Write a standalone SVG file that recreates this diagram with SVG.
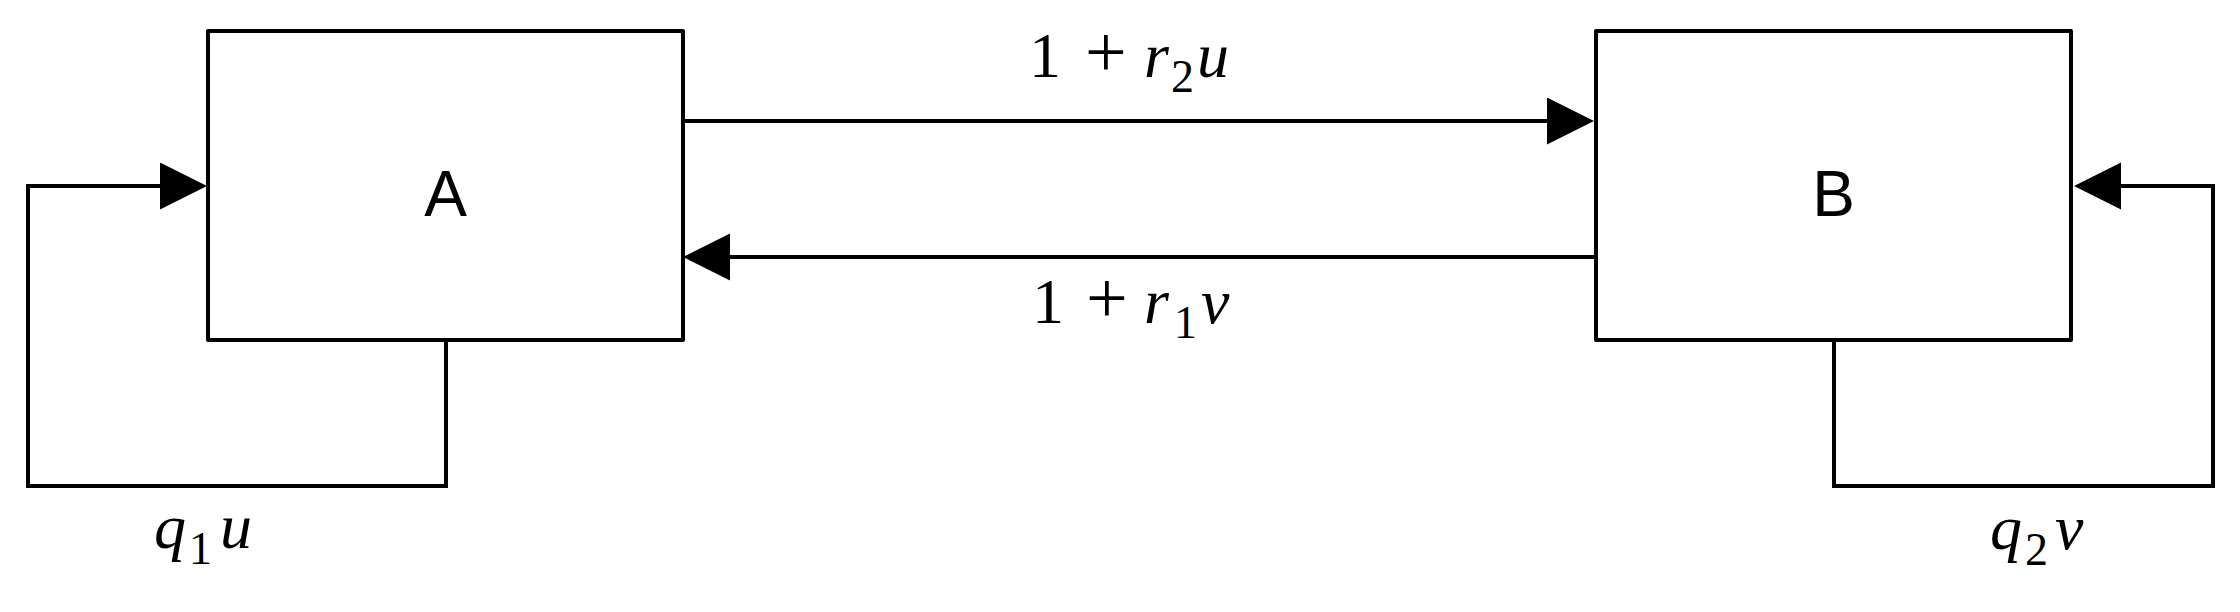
<svg xmlns="http://www.w3.org/2000/svg" width="2240" height="612" viewBox="0 0 2240 612">
<style>
.box{fill:#fff;stroke:#000;stroke-width:4;stroke-linejoin:round}
.edge{fill:none;stroke:#000;stroke-width:4;stroke-linejoin:miter}
.lbl{font-family:"Liberation Sans",Arial,sans-serif;font-size:64px;fill:#000;text-anchor:middle}
.m{font-family:"Liberation Serif","Times New Roman",serif;font-size:64px;fill:#000}
.i{font-style:italic}
.s{font-size:46px}
.p{font-size:74px}
</style>
<defs>
<marker id="ah" markerUnits="userSpaceOnUse" markerWidth="48" markerHeight="48" refX="0" refY="23.5" orient="auto">
<path d="M0,0 L47,23.5 L0,47 Z" fill="#000"/>
</marker>
</defs>
<g id="node-A">
<rect class="box" x="208" y="31" width="475" height="309"/>
<text class="lbl" x="445.5" y="216">A</text>
</g>
<g id="node-B">
<rect class="box" x="1596" y="31" width="475" height="309"/>
<text class="lbl" x="1833.5" y="216">B</text>
</g>
<g id="connectors">
<path class="edge" d="M683,121 H1547" marker-end="url(#ah)"/>
<path class="edge" d="M1596,257 H730" marker-end="url(#ah)"/>
<path class="edge" d="M446,340 V486 H28 V186 H160" marker-end="url(#ah)"/>
<path class="edge" d="M1834,340 V486 H2213 V186 H2121" marker-end="url(#ah)"/>
</g>
<g id="labels">
<text class="m" y="77"><tspan x="1029">1</tspan><tspan x="1085" class="p">+</tspan><tspan x="1144" class="i">r</tspan><tspan x="1171" y="92" class="s">2</tspan><tspan x="1197" y="77" class="i">u</tspan></text>
<text class="m" y="323"><tspan x="1032">1</tspan><tspan x="1086" class="p">+</tspan><tspan x="1144" class="i">r</tspan><tspan x="1174" y="338" class="s">1</tspan><tspan x="1201" y="323" class="i">v</tspan></text>
<text class="m" y="548"><tspan x="154" class="i">q</tspan><tspan x="189" y="564" class="s">1</tspan><tspan x="220" y="548" class="i">u</tspan></text>
<text class="m" y="549"><tspan x="1990" class="i">q</tspan><tspan x="2025" y="565" class="s">2</tspan><tspan x="2055" y="549" class="i">v</tspan></text>
</g>
</svg>
